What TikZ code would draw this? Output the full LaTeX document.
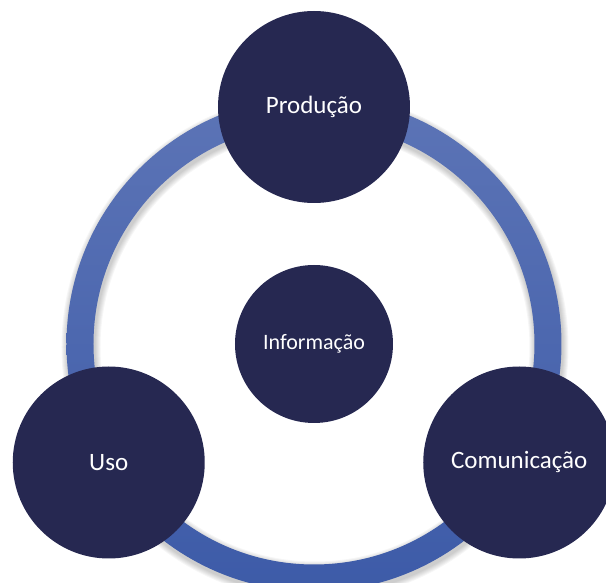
\documentclass[tikz,border=0pt]{standalone}
\usepackage{fontspec}
\setmainfont{Carlito}
\usepackage{tikz}
\usetikzlibrary{positioning}
\definecolor{navy}{HTML}{262851}
\definecolor{ringtop}{HTML}{5C74B6}
\definecolor{ringbot}{HTML}{3D5BA8}

\begin{document}
\begin{tikzpicture}[x=1pt,y=1pt,
            stage/.style={circle,fill=navy,text=white,minimum size=192pt,
                inner sep=0pt,font=\fontsize{25}{30}\selectfont},
            core/.style={stage,minimum size=158pt,font=\fontsize{22}{26}\selectfont}]
            \useasboundingbox (-314,-239) rectangle (292,344);

            % soft shadow under the ring
            \foreach \i in {1,...,6}
                \draw[black,opacity=0.035,line width={27pt+2pt*\i}] (1,-3) circle (234pt);

            % ring
            \shade[top color=ringtop,bottom color=ringbot,even odd rule]
                (0,0) circle (247.5pt) (0,0) circle (220.5pt);

            % stages on the ring
            \node[stage] (P) at (90:237)  {Produção};
            \node[stage] (U) at (210:237) {Uso};
            \node[stage] (C) at (330:237) {Comunicação};

            % centre
            \node[core]  (I) at (0,0)     {Informação};
        \end{tikzpicture}
\end{document}
